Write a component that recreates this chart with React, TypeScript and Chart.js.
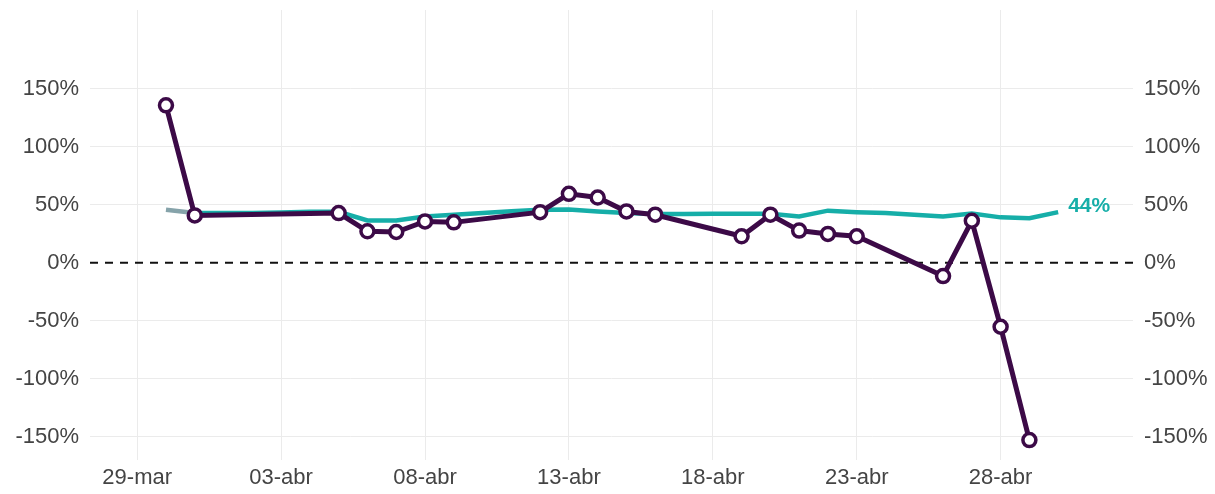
import React, { useEffect, useRef } from "react";
import { Chart, registerables } from "chart.js";

Chart.register(...registerables);

const xTickLabels = ["29-mar", "03-abr", "08-abr", "13-abr", "18-abr", "23-abr", "28-abr"];
const yTickValues = [-150, -100, -50, 0, 50, 100, 150];

const purpleDates = [
  "30-mar", "31-mar", "05-abr", "06-abr", "07-abr", "08-abr", "09-abr", "12-abr", "13-abr", "14-abr",
  "15-abr", "16-abr", "19-abr", "20-abr", "21-abr", "22-abr", "23-abr", "26-abr", "27-abr", "28-abr", "29-abr",
];
const purpleValues = [
  135.8, 40.9, 42.9, 27.2, 26.6, 35.7, 34.9, 43.7, 59.5, 56.3,
  44.3, 41.5, 22.9, 41.5, 27.8, 24.9, 22.9, -11.4, 36.3, -55.1, -152.8,
];

const tealDates = [
  "30-mar", "31-mar", "01-abr", "02-abr", "03-abr", "04-abr", "05-abr", "06-abr", "07-abr", "08-abr",
  "09-abr", "10-abr", "11-abr", "12-abr", "13-abr", "14-abr", "15-abr", "16-abr", "17-abr", "18-abr",
  "19-abr", "20-abr", "21-abr", "22-abr", "23-abr", "24-abr", "25-abr", "26-abr", "27-abr", "28-abr",
  "29-abr", "30-abr",
];
const tealValues = [
  45.8, 43, 43, 43, 43.5, 44, 44, 36.5, 36.5, 40,
  41.5, 43, 44.5, 45.8, 46, 44.3, 43, 42, 42, 42.3,
  42.3, 42.3, 40, 45, 43.7, 42.9, 41.5, 40, 42.5, 39.2,
  38.5, 43.7,
];

const MONTHS: Record<string, number> = { mar: 2, abr: 3 };
function dayIndex(s: string): number {
  const [d, m] = s.split("-");
  return (Date.UTC(2020, MONTHS[m], +d) - Date.UTC(2020, 2, 29)) / 86400000;
}

const PURPLE = "#3c0a47";
const TEAL = "#16aea8";
const TEAL_START = "#86a3aa";
const TEXT = "#444444";
const GRID = "#ebebeb";
const FAMILY = "'Liberation Sans', Arial, Helvetica, sans-serif";

export default function App() {
  const ref = useRef<HTMLCanvasElement>(null);
  useEffect(() => {
    document.body.style.margin = "0";
    const canvas = ref.current!;
    const xTicks = xTickLabels.map(dayIndex);
    const labelMap = new Map<number, string>();
    xTickLabels.forEach((l) => labelMap.set(dayIndex(l), l));

    const zeroLine = {
      id: "zeroLine",
      beforeDatasetsDraw(chart: any) {
        const { ctx, chartArea, scales } = chart;
        const y = scales.y.getPixelForValue(0);
        ctx.save();
        ctx.strokeStyle = "#111";
        ctx.lineWidth = 2;
        ctx.setLineDash([8, 7]);
        ctx.beginPath();
        ctx.moveTo(chartArea.left, y);
        ctx.lineTo(chartArea.right, y);
        ctx.stroke();
        ctx.restore();
      },
    };
    const endLabel = {
      id: "endLabel",
      afterDatasetsDraw(chart: any) {
        const meta = chart.getDatasetMeta(1);
        const pt = meta.data[meta.data.length - 1];
        const v = tealValues[tealValues.length - 1];
        const { ctx } = chart;
        ctx.save();
        ctx.fillStyle = TEAL;
        ctx.font = "bold 21px " + FAMILY;
        ctx.textAlign = "left";
        ctx.textBaseline = "middle";
        ctx.fillText(Math.round(v) + "%", pt.x + 10, pt.y - 6);
        ctx.restore();
      },
    };

    const font = { family: FAMILY, size: 22 };
    const noPad = (s: any) => {
      s.paddingTop = 0;
      s.paddingBottom = 0;
    };
    const chart = new Chart(canvas, {
      type: "line",
      data: {
        datasets: [
          {
            data: purpleDates.map((d, i) => ({ x: dayIndex(d), y: purpleValues[i] })),
            borderColor: PURPLE,
            borderWidth: 5,
            pointRadius: 6.5,
            pointBorderWidth: 3.5,
            pointBackgroundColor: "#ffffff",
            pointBorderColor: PURPLE,
            tension: 0,
          },
          {
            data: tealDates.map((d, i) => ({ x: dayIndex(d), y: tealValues[i] })),
            borderColor: TEAL,
            borderWidth: 4.5,
            pointRadius: 0,
            tension: 0,
            segment: {
              borderColor: (c: any) => (c.p0DataIndex === 0 ? TEAL_START : TEAL),
            },
          },
        ],
      },
      options: {
        animation: false,
        responsive: false,
        layout: { padding: { top: 7, left: 0, right: 0, bottom: 0 } },
        plugins: { legend: { display: false }, tooltip: { enabled: false } },
        scales: {
          x: {
            type: "linear",
            min: -1.64,
            max: 34.6,
            afterBuildTicks: (s: any) => {
              s.ticks = xTicks.map((v) => ({ value: v }));
            },
            afterFit: (s: any) => {
              s.height = 34;
              s.paddingLeft = 0;
              s.paddingRight = 0;
            },
            ticks: {
              callback: (v: any) => labelMap.get(v) ?? "",
              color: TEXT,
              font,
              padding: 5,
              maxRotation: 0,
              autoSkip: false,
            },
            grid: { color: GRID, lineWidth: 1, drawTicks: false },
            border: { display: false },
          },
          y: {
            position: "left",
            min: -170,
            max: 218,
            afterBuildTicks: (s: any) => {
              s.ticks = yTickValues.map((v) => ({ value: v }));
            },
            afterFit: (s: any) => {
              s.width = 90;
              noPad(s);
            },
            ticks: { callback: (v: any) => v + "%", color: TEXT, font, padding: 11 },
            grid: {
              color: (c: any) => (c.tick && c.tick.value === 0 ? "rgba(0,0,0,0)" : GRID),
              lineWidth: 1,
              drawTicks: false,
            },
            border: { display: false },
          },
          y2: {
            position: "right",
            min: -170,
            max: 218,
            afterBuildTicks: (s: any) => {
              s.ticks = yTickValues.map((v) => ({ value: v }));
            },
            afterFit: (s: any) => {
              s.width = 82;
              noPad(s);
            },
            ticks: { callback: (v: any) => v + "%", color: TEXT, font, padding: 11 },
            grid: { display: false, drawTicks: false },
            border: { display: false },
          },
        },
      },
      plugins: [zeroLine, endLabel],
    } as any);
    return () => chart.destroy();
  }, []);
  return <canvas ref={ref} width={1215} height={494} style={{ display: "block" }} />;
}
